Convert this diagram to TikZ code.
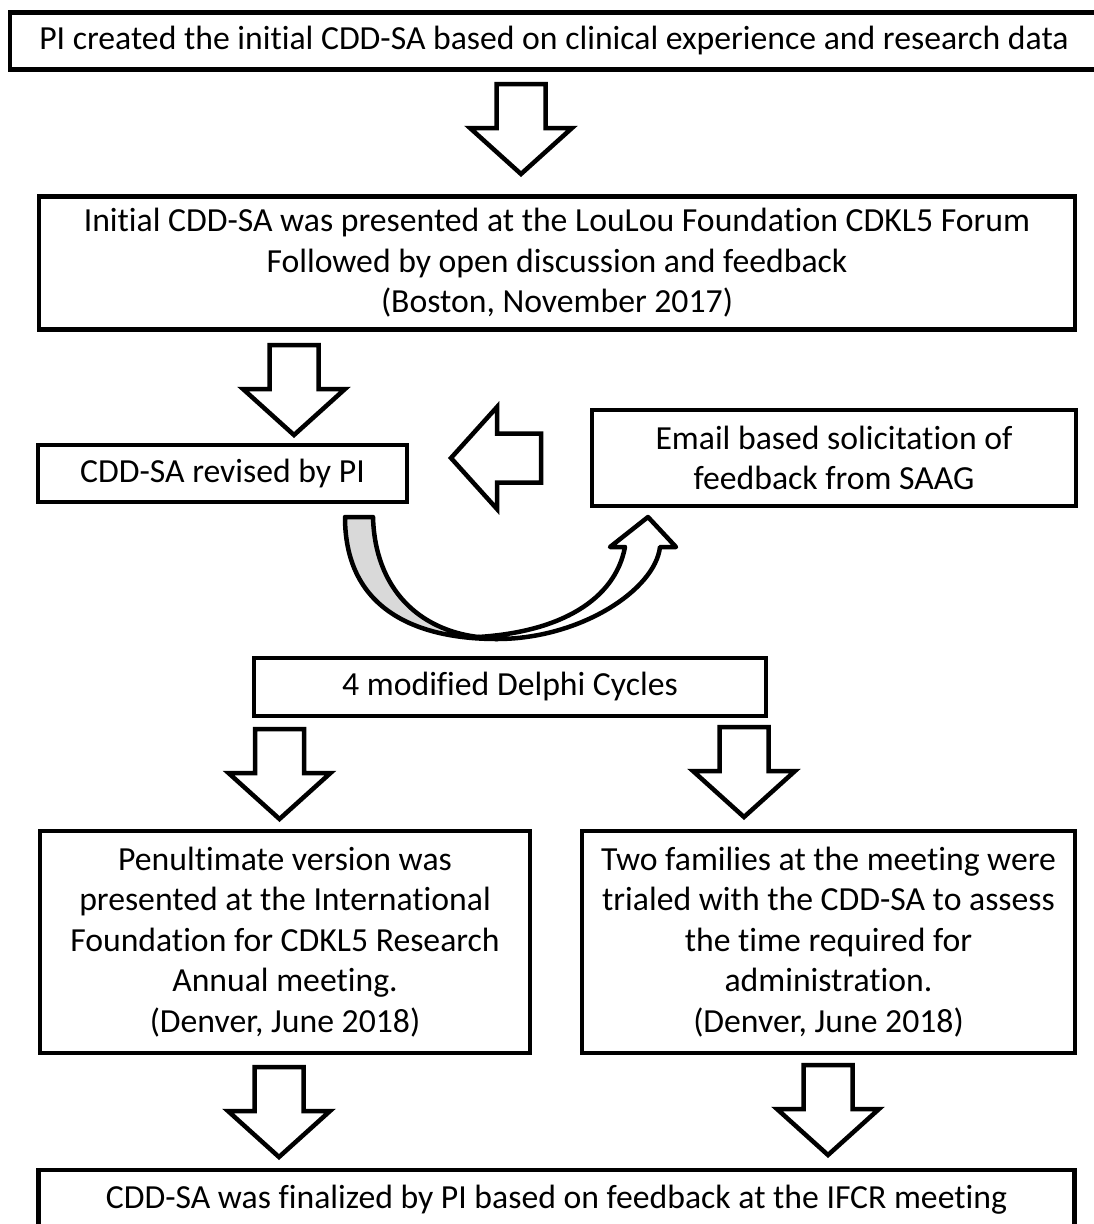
\documentclass[tikz,border=0pt]{standalone}
\usepackage{fontspec}
\setmainfont{Carlito}[Ligatures=NoCommon]
\tikzset{
    flow-box/.style = {draw=black, fill=white, line width=4.5pt, rectangle, inner sep=0pt, align=center, font=\fontsize{33.7}{40.5}\selectfont},
    block-arrow/.style = {draw=black, fill=white, line width=4.5pt, line join=miter},
    curve-band/.style = {draw=black, line width=4.5pt, line join=round},
    down-arrow/.pic = {\path[block-arrow] (-24.5,0) -- (24.5,0) -- (24.5,44) -- (51,44) -- (0,90) -- (-51,44) -- (-24.5,44) -- cycle;},
}

\begin{document}
\begin{tikzpicture}[x=1pt, y=-1pt]
\useasboundingbox (0,0) rectangle (1093,1224);
% boxes
\node[flow-box, minimum width=1088pt, minimum height=57pt] (created) at (554,41) {PI created the initial CDD-SA based on clinical experience and research data};
\node[flow-box, minimum width=1036pt, minimum height=133pt] (forum) at (557,263) {Initial CDD-SA was presented at the LouLou Foundation CDKL5 Forum\\Followed by open discussion and feedback\\(Boston, November 2017)};
\node[flow-box, minimum width=369pt, minimum height=57pt] (revised) at (222.5,473.5) {CDD-SA revised by PI};
\node[flow-box, minimum width=484pt, minimum height=96pt] (solicit) at (834,458) {Email based solicitation of\\feedback from SAAG};
\node[flow-box, minimum width=512pt, minimum height=58pt] (delphi) at (510,687) {4 modified Delphi Cycles};
\node[flow-box, minimum width=490pt, minimum height=222pt] (penult) at (285,942) {Penultimate version was\\presented at the International\\Foundation for CDKL5 Research\\Annual meeting.\\(Denver, June 2018)};
\node[flow-box, minimum width=493pt, minimum height=222pt] (trial) at (828.5,942) {Two families at the meeting were\\trialed with the CDD-SA to assess\\the time required for\\administration.\\(Denver, June 2018)};
\node[flow-box, minimum width=1036pt, minimum height=60pt] (final) at (556.5,1200) {CDD-SA was finalized by PI based on feedback at the IFCR meeting};

% block arrows
\pic at (521,84) {down-arrow};
\pic at (294,345) {down-arrow};
\pic[rotate=-90] at (541,458) {down-arrow};
\pic at (279.5,729) {down-arrow};
\pic at (744,727) {down-arrow};
\pic at (279,1067) {down-arrow};
\pic at (828,1065) {down-arrow};

% curved arrow (cycle)
\path[curve-band, fill=white] (497,639) .. controls (580,639) and (655,590) .. (660,547)
    -- (676,547) -- (648,517) -- (610,547) -- (625,547)
    .. controls (615,600) and (560,632) .. (478,637) -- cycle;
\path[curve-band, fill=black!15] (345,517) -- (373,517)
    .. controls (375,590) and (420,630) .. (478,637) -- (497,639)
    .. controls (420,639) and (345,612) .. cycle;
\end{tikzpicture}
\end{document}
